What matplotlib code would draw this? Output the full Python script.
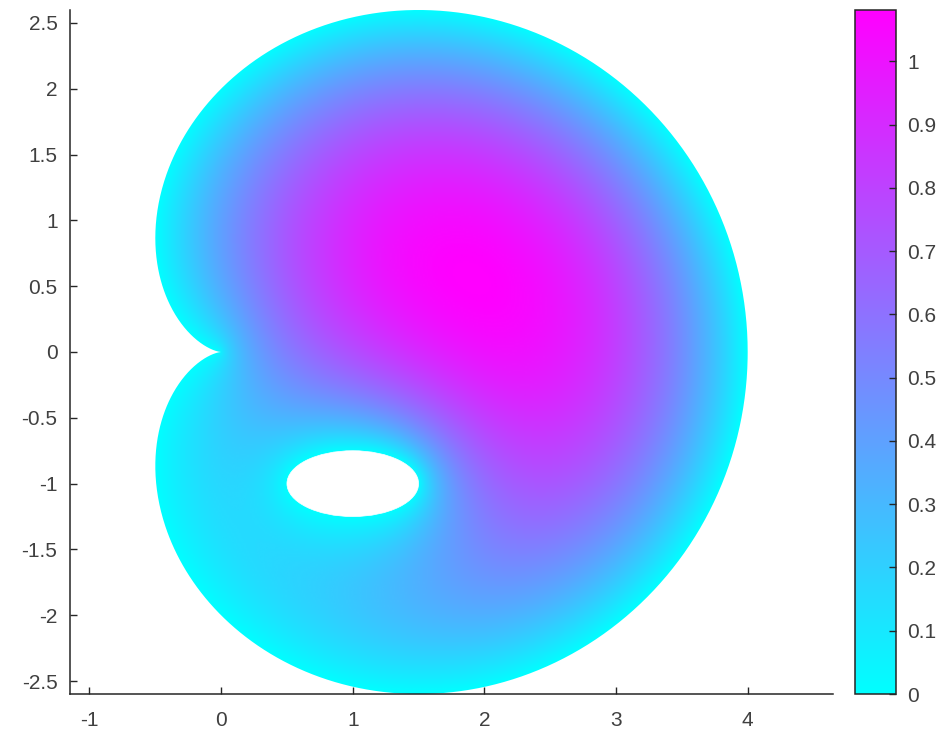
import numpy as np
import matplotlib
matplotlib.use("Agg")
import matplotlib.pyplot as plt
from matplotlib.path import Path
from matplotlib.patches import PathPatch, Ellipse

# ---- problem data ----
cardioid_a = 2.0            # outer boundary r = a (1 + cos t)
hole_center = (1.0, -1.0)   # elliptical hole
hole_axes = (0.5, 0.25)     # semi-axes of the hole
source_f = 0.992            # -laplace(u) = f, u = 0 on boundaries (peak ~1.08)
x_ticks = [-1, 0, 1, 2, 3, 4]
y_ticks = [-2.5, -2, -1.5, -1, -0.5, 0, 0.5, 1, 1.5, 2, 2.5]
cbar_ticks = [0, 0.1, 0.2, 0.3, 0.4, 0.5, 0.6, 0.7, 0.8, 0.9, 1.0]

# ---- solve Poisson problem on a grid (conjugate gradient) ----
h = 0.0125
xs = np.arange(-0.6, 4.05 + h, h)
ys = np.arange(-2.65, 2.65 + h, h)
X, Y = np.meshgrid(xs, ys)
R = np.hypot(X, Y)
T = np.arctan2(Y, X)
inside = R < cardioid_a * (1 + np.cos(T))
hole = ((X - hole_center[0]) / hole_axes[0]) ** 2 + ((Y - hole_center[1]) / hole_axes[1]) ** 2 < 1
mask = inside & ~hole
mask[0, :] = mask[-1, :] = False
mask[:, 0] = mask[:, -1] = False


def Aop(v):
    out = np.zeros_like(v)
    out[1:-1, 1:-1] = (4 * v[1:-1, 1:-1] - v[:-2, 1:-1] - v[2:, 1:-1]
                       - v[1:-1, :-2] - v[1:-1, 2:]) / h ** 2
    out[~mask] = 0
    return out


b = np.where(mask, source_f, 0.0)
u = np.zeros_like(b)
r = b - Aop(u)
p = r.copy()
rs = np.sum(r * r)
for _ in range(6000):
    Ap = Aop(p)
    alpha = rs / np.sum(p * Ap)
    u += alpha * p
    r -= alpha * Ap
    rs_new = np.sum(r * r)
    if np.sqrt(rs_new) < 1e-7:
        break
    p = r + (rs_new / rs) * p
    rs = rs_new
u[~mask] = 0.0
umax = u.max()

# ---- figure ----
plt.rcParams['font.family'] = ['Liberation Sans', 'DejaVu Sans']
W, H = 943, 741
fig = plt.figure(figsize=(W / 100, H / 100), dpi=100)
ax_l, ax_r, ax_b, ax_t = 70, 833, 694, 10
ax = fig.add_axes([ax_l / W, 1 - ax_b / H, (ax_r - ax_l) / W, (ax_b - ax_t) / H])

ylim = (-2.598, 2.598)
scale = (ax_b - ax_t) / (ylim[1] - ylim[0])
xc = 1.75
half = (ax_r - ax_l) / scale / 2
ax.set_xlim(xc - half, xc + half)
ax.set_ylim(*ylim)

im = ax.imshow(u, extent=(xs[0] - h / 2, xs[-1] + h / 2, ys[0] - h / 2, ys[-1] + h / 2),
               origin='lower', cmap='cool', vmin=0, vmax=umax,
               interpolation='bilinear', aspect='auto')

t = np.linspace(0, 2 * np.pi, 1000)
rc = cardioid_a * (1 + np.cos(t))
verts = np.column_stack([rc * np.cos(t), rc * np.sin(t)])
clip = PathPatch(Path(verts), transform=ax.transData, facecolor='none', edgecolor='none')
ax.add_patch(clip)
im.set_clip_path(clip)
ax.add_patch(Ellipse(hole_center, 2 * hole_axes[0], 2 * hole_axes[1],
                     facecolor='white', edgecolor='white', lw=0.5, zorder=3))

dark = (0.15, 0.15, 0.15)
for s in ['top', 'right']:
    ax.spines[s].set_visible(False)
for s in ['left', 'bottom']:
    ax.spines[s].set_color(dark)
    ax.spines[s].set_linewidth(1.1)
ax.set_xticks(x_ticks)
ax.set_xticklabels([f"{v:g}" for v in x_ticks])
ax.set_yticks(y_ticks)
ax.set_yticklabels([f"{v:g}" for v in y_ticks])
ax.tick_params(axis='both', direction='in', length=5, width=1.0, colors=dark,
               labelsize=15, labelcolor=(0.25, 0.25, 0.25))
ax.tick_params(axis='x', pad=12)
ax.tick_params(axis='y', pad=9)

cax = fig.add_axes([855 / W, 1 - ax_b / H, (896 - 855) / W, (ax_b - ax_t) / H])
cb = fig.colorbar(im, cax=cax, ticks=cbar_ticks)
cb.ax.set_yticklabels([f"{v:g}" for v in cbar_ticks])
cb.outline.set_edgecolor(dark)
cb.outline.set_linewidth(1.1)
cax.tick_params(direction='in', length=5, width=1.0, colors=dark,
                labelsize=15, labelcolor=(0.25, 0.25, 0.25), pad=8)

fig.savefig("out.png", dpi=100)
